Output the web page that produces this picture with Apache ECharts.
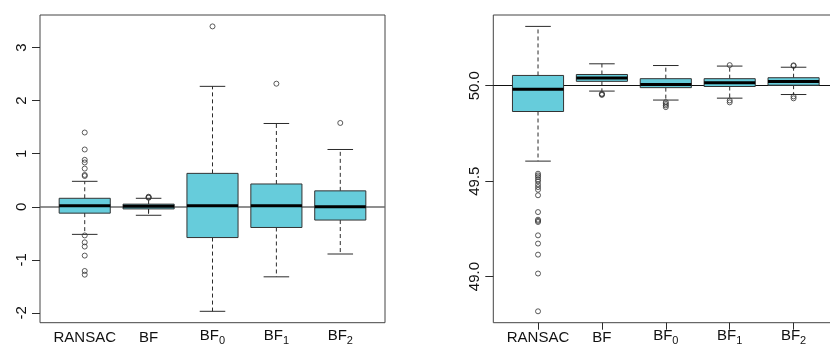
<!DOCTYPE html>
<html>
<head>
<meta charset="utf-8">
<script src="https://cdn.jsdelivr.net/npm/echarts@6/dist/echarts.min.js"></script>
<style>
html,body{margin:0;padding:0;background:#fff;}
#chart{width:830px;height:347px;}
</style>
</head>
<body>
<div id="chart"></div>
<script>
// ---- data ----
const categories = ['RANSAC', 'BF', 'BF', 'BF', 'BF'];
const subscripts = ['', '', '0', '1', '2'];

// [lower whisker, Q1, median, Q3, upper whisker]
const leftStats = [
  [-0.52, -0.12, 0.02, 0.16, 0.48],
  [-0.16, -0.04, 0.01, 0.05, 0.16],
  [-1.97, -0.58, 0.02, 0.63, 2.27],
  [-1.32, -0.39, 0.02, 0.43, 1.57],
  [-0.89, -0.25, 0.00, 0.30, 1.08]
];
const leftOutliers = [
  [1.40, 1.08, 0.885, 0.835, 0.72, 0.60, 0.58, -0.54, -0.67, -0.75, -0.92, -1.21, -1.28],
  [0.17, 0.18, 0.19],
  [3.40],
  [2.32],
  [1.58]
];
const leftTicks = [-2, -1, 0, 1, 2, 3];
const leftRef = 0;

const rightStats = [
  [49.605, 49.865, 49.981, 50.054, 50.311],
  [49.972, 50.023, 50.040, 50.059, 50.115],
  [49.925, 49.990, 50.007, 50.037, 50.106],
  [49.935, 49.996, 50.016, 50.037, 50.103],
  [49.954, 50.003, 50.022, 50.042, 50.097]
];
const rightOutliers = [
  [49.539, 49.530, 49.521, 49.509, 49.499, 49.483, 49.469, 49.455, 49.426, 49.338,
   49.298, 49.292, 49.286, 49.216, 49.173, 49.115, 49.016, 48.818],
  [49.958, 49.955, 49.952],
  [49.914, 49.905, 49.897, 49.888],
  [50.108, 49.923, 49.913],
  [50.104, 50.107, 49.944, 49.934]
];
const rightTicks = [49.0, 49.5, 50.0];
const rightRef = 50.0;

// ---- helpers ----
const positions = categories.map((c, i) => i + 1);

function extRange(stats, outs) {
  let lo = Infinity, hi = -Infinity;
  stats.forEach(s => s.forEach(v => { lo = Math.min(lo, v); hi = Math.max(hi, v); }));
  outs.forEach(o => o.forEach(v => { lo = Math.min(lo, v); hi = Math.max(hi, v); }));
  const d = (hi - lo) * 0.04;
  return [lo - d, hi + d];
}

const BOX_FILL = '#66CCDB';
const INK = '#2b2b2b';

function renderBox(params, api) {
  const x = api.value(0);
  const low = api.value(1), q1 = api.value(2), med = api.value(3), q3 = api.value(4), high = api.value(5);
  const p = (xx, yy) => api.coord([xx, yy]);
  const hw = 0.4, cw = 0.2;
  const dash = {stroke: INK, lineWidth: 1, lineDash: [4, 3]};
  const solid = {stroke: INK, lineWidth: 1};
  const a = p(x, q3), b = p(x, high), c = p(x, q1), d = p(x, low);
  const tl = p(x - hw, q3), br = p(x + hw, q1);
  const ml = p(x - hw, med), mr = p(x + hw, med);
  const ch1 = p(x - cw, high), ch2 = p(x + cw, high);
  const cl1 = p(x - cw, low), cl2 = p(x + cw, low);
  return {
    type: 'group',
    children: [
      {type: 'line', shape: {x1: a[0], y1: a[1], x2: b[0], y2: b[1]}, style: dash},
      {type: 'line', shape: {x1: c[0], y1: c[1], x2: d[0], y2: d[1]}, style: dash},
      {type: 'line', shape: {x1: ch1[0], y1: ch1[1], x2: ch2[0], y2: ch2[1]}, style: solid},
      {type: 'line', shape: {x1: cl1[0], y1: cl1[1], x2: cl2[0], y2: cl2[1]}, style: solid},
      {type: 'rect', shape: {x: tl[0], y: tl[1], width: br[0] - tl[0], height: br[1] - tl[1]},
        style: {fill: BOX_FILL, stroke: '#333', lineWidth: 1}},
      {type: 'line', shape: {x1: ml[0], y1: ml[1], x2: mr[0], y2: mr[1]}, style: {stroke: '#000', lineWidth: 3}}
    ]
  };
}

function outlierPoints(outs) {
  const pts = [];
  outs.forEach((o, i) => o.forEach(v => pts.push([positions[i], v])));
  return pts;
}

function xLabel(v) {
  const i = Math.round(v) - 1;
  if (i < 0 || i >= categories.length) return '';
  if (subscripts[i]) return '{b|' + categories[i] + '}{s|' + subscripts[i] + '}';
  return '{n|' + categories[i] + '}';
}

const labelFont = 'Liberation Sans, Arial, sans-serif';
const richX = {
  n: {fontSize: 15, fontFamily: labelFont, color: '#111', padding: [3, 0, 0, 0]},
  b: {fontSize: 15, fontFamily: labelFont, color: '#111', padding: [0, 0, 2, 0]},
  s: {fontSize: 11, fontFamily: labelFont, color: '#111', padding: [8, 0, 0, 0]}
};

function makeXAxis(gridIndex) {
  return {
    type: 'value', gridIndex: gridIndex, min: 0.3, max: 5.7,
    axisLine: {show: false},
    splitLine: {show: false},
    axisTick: {show: true, length: 7, customValues: positions, lineStyle: {color: INK, width: 1}},
    axisLabel: {show: true, customValues: positions, margin: 5, formatter: xLabel, rich: richX}
  };
}

function makeYAxis(gridIndex, range, ticks, fmt) {
  return {
    type: 'value', gridIndex: gridIndex, min: range[0], max: range[1],
    axisLine: {show: false},
    splitLine: {show: false},
    axisTick: {show: true, length: 8, customValues: ticks, lineStyle: {color: INK, width: 1}},
    axisLabel: {show: true, customValues: ticks, rotate: 90, margin: 11, formatter: fmt,
      fontSize: 15, fontFamily: labelFont, color: '#111'}
  };
}

const leftRange = extRange(leftStats, leftOutliers);
const rightRange = extRange(rightStats, rightOutliers);

function refLineSeries(axisIdx, value, color, width) {
  return {
    type: 'line', xAxisIndex: axisIdx, yAxisIndex: axisIdx, data: [], z: 1, silent: true,
    markLine: {silent: true, symbol: 'none', label: {show: false}, animation: false, z: 1,
      lineStyle: {color: color, type: 'solid', width: width}, data: [{yAxis: value}]}
  };
}

const outlierStyle = {color: 'rgba(255,255,255,0)', borderColor: '#333', borderWidth: 1};

const chart = echarts.init(document.getElementById('chart'), null, {renderer: 'canvas'});
chart.setOption({
  animation: false,
  backgroundColor: '#fff',
  grid: [
    {left: 40, top: 15, width: 345, height: 307.7, outerBoundsMode: 'none', containLabel: false,
      show: true, borderColor: '#444', borderWidth: 1, backgroundColor: 'transparent'},
    {left: 493.3, top: 15, width: 345, height: 307.7, outerBoundsMode: 'none', containLabel: false,
      show: true, borderColor: '#444', borderWidth: 1, backgroundColor: 'transparent'}
  ],
  xAxis: [makeXAxis(0), makeXAxis(1)],
  yAxis: [
    makeYAxis(0, leftRange, leftTicks, v => String(Math.round(v))),
    makeYAxis(1, rightRange, rightTicks, v => v.toFixed(1))
  ],
  series: [
    refLineSeries(0, leftRef, '#6a6a6a', 1.5),
    {
      type: 'custom', xAxisIndex: 0, yAxisIndex: 0, renderItem: renderBox,
      data: leftStats.map((s, i) => [positions[i]].concat(s)),
      encode: {x: 0, y: [1, 2, 3, 4, 5]}, z: 2, silent: true
    },
    {
      type: 'scatter', xAxisIndex: 0, yAxisIndex: 0, data: outlierPoints(leftOutliers),
      symbol: 'circle', symbolSize: 5, z: 3, silent: true, itemStyle: outlierStyle
    },
    refLineSeries(1, rightRef, '#111', 1),
    {
      type: 'custom', xAxisIndex: 1, yAxisIndex: 1, renderItem: renderBox,
      data: rightStats.map((s, i) => [positions[i]].concat(s)),
      encode: {x: 0, y: [1, 2, 3, 4, 5]}, z: 2, silent: true
    },
    {
      type: 'scatter', xAxisIndex: 1, yAxisIndex: 1, data: outlierPoints(rightOutliers),
      symbol: 'circle', symbolSize: 5, z: 3, silent: true, itemStyle: outlierStyle
    }
  ]
});
</script>
</body>
</html>
